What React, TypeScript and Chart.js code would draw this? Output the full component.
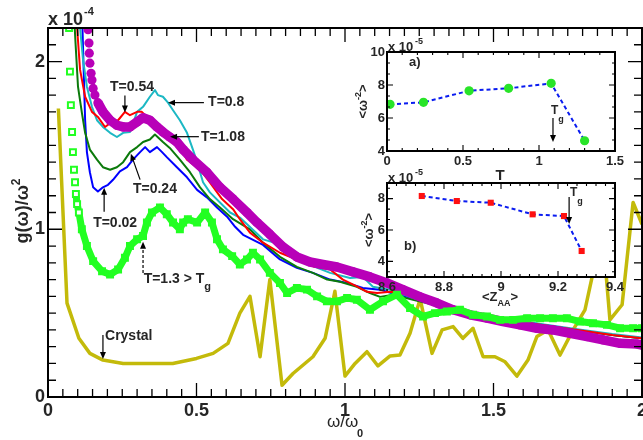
import { useEffect, useRef } from 'react';
import { Chart, registerables } from 'chart.js';

Chart.register(...registerables);

const FONT = '"Liberation Sans", Arial, Helvetica, sans-serif';
const TXT = '#262626';

// ---------- main panel: g(w)/w^2 in units of 1e-4 versus w/w0 ----------
const crystalW = [0.035, 0.064, 0.104, 0.141, 0.185, 0.253, 0.42, 0.50, 0.556, 0.606, 0.646, 0.68, 0.714, 0.747, 0.788, 0.825, 0.892, 0.933, 0.966, 1.0, 1.034, 1.074, 1.111, 1.152, 1.185, 1.219, 1.253, 1.293, 1.327, 1.364, 1.397, 1.431, 1.465, 1.505, 1.539, 1.579, 1.616, 1.646, 1.684, 1.724, 1.768, 1.808, 1.835, 1.865, 1.892, 1.933, 1.97, 2.0];
const crystalG = [1.72, 0.56, 0.35, 0.26, 0.22, 0.20, 0.20, 0.23, 0.26, 0.32, 0.50, 0.60, 0.24, 0.70, 0.07, 0.14, 0.24, 0.35, 0.63, 0.125, 0.20, 0.27, 0.185, 0.245, 0.25, 0.38, 0.585, 0.26, 0.40, 0.42, 0.35, 0.41, 0.24, 0.24, 0.21, 0.125, 0.22, 0.36, 0.40, 0.25, 0.40, 0.52, 0.74, 1.03, 0.46, 0.55, 1.16, 1.03];

const t130W = [0.071, 0.074, 0.077, 0.081, 0.084, 0.0875, 0.091, 0.094, 0.098, 0.104, 0.114, 0.131, 0.152, 0.182, 0.209, 0.236, 0.259, 0.276, 0.30, 0.32, 0.333, 0.35, 0.377, 0.40, 0.421, 0.444, 0.455, 0.471, 0.502, 0.529, 0.552, 0.569, 0.589, 0.62, 0.646, 0.67, 0.69, 0.714, 0.747, 0.781, 0.805, 0.838, 0.872, 0.906, 0.939, 0.973, 1.007, 1.04, 1.084, 1.128, 1.175, 1.219, 1.263, 1.303, 1.343, 1.387, 1.431, 1.478, 1.522, 1.566, 1.613, 1.657, 1.70, 1.747, 1.791, 1.835, 1.882, 1.926, 1.97, 2.0];
const t130G = [2.20, 1.94, 1.74, 1.58, 1.46, 1.355, 1.28, 1.21, 1.15, 1.10, 1.00, 0.90, 0.81, 0.75, 0.73, 0.76, 0.83, 0.90, 0.94, 0.96, 1.04, 1.10, 1.13, 1.09, 1.04, 1.00, 1.04, 1.06, 1.04, 1.10, 1.04, 0.94, 0.88, 0.84, 0.79, 0.82, 0.86, 0.82, 0.74, 0.68, 0.62, 0.65, 0.64, 0.60, 0.57, 0.57, 0.59, 0.58, 0.52, 0.57, 0.61, 0.53, 0.48, 0.50, 0.51, 0.52, 0.49, 0.48, 0.46, 0.46, 0.47, 0.47, 0.47, 0.47, 0.45, 0.44, 0.43, 0.41, 0.41, 0.41];

const t108W = [0.135, 0.138, 0.139, 0.141, 0.145, 0.148, 0.152, 0.158, 0.168, 0.185, 0.209, 0.232, 0.253, 0.276, 0.30, 0.32, 0.343, 0.367, 0.387, 0.41, 0.434, 0.455, 0.488, 0.535, 0.579, 0.623, 0.67, 0.704, 0.747, 0.791, 0.838, 0.882, 0.926, 0.973, 1.027, 1.084, 1.141, 1.195, 1.253, 1.31, 1.364, 1.421, 1.478, 1.532, 1.589, 1.646, 1.70, 1.758, 1.815, 1.869, 1.926, 1.983, 2.0];
const t108G = [2.19, 2.11, 2.05, 1.99, 1.93, 1.89, 1.84, 1.80, 1.755, 1.70, 1.65, 1.62, 1.61, 1.61, 1.64, 1.665, 1.65, 1.61, 1.58, 1.55, 1.52, 1.475, 1.415, 1.34, 1.25, 1.18, 1.10, 1.04, 0.97, 0.895, 0.835, 0.805, 0.79, 0.775, 0.746, 0.716, 0.68, 0.64, 0.597, 0.56, 0.52, 0.49, 0.47, 0.45, 0.43, 0.41, 0.40, 0.38, 0.36, 0.34, 0.32, 0.316, 0.31];

const t054W = [0.088, 0.098, 0.108, 0.125, 0.148, 0.168, 0.192, 0.215, 0.236, 0.259, 0.276, 0.30, 0.316, 0.333, 0.354, 0.377, 0.40, 0.42, 0.444, 0.468, 0.512, 0.545, 0.586, 0.623, 0.646, 0.68, 0.724, 0.781, 0.838, 0.892, 0.95, 0.993, 1.04, 1.074, 1.108, 1.152, 1.185, 1.25, 1.3, 1.35, 1.4, 1.5, 1.6, 1.7, 1.8, 1.9, 2.0];
const t054G = [2.35, 2.2, 1.95, 1.79, 1.70, 1.67, 1.61, 1.64, 1.65, 1.70, 1.68, 1.70, 1.70, 1.67, 1.64, 1.59, 1.56, 1.53, 1.49, 1.415, 1.355, 1.28, 1.18, 1.12, 1.06, 0.98, 0.92, 0.86, 0.82, 0.78, 0.76, 0.70, 0.66, 0.627, 0.62, 0.627, 0.62, 0.59, 0.56, 0.535, 0.51, 0.475, 0.445, 0.42, 0.395, 0.37, 0.35];

const t080W = [0.098, 0.108, 0.118, 0.131, 0.148, 0.165, 0.185, 0.209, 0.232, 0.253, 0.276, 0.30, 0.32, 0.343, 0.36, 0.37, 0.387, 0.404, 0.421, 0.444, 0.468, 0.488, 0.502, 0.522, 0.545, 0.579, 0.613, 0.646, 0.724, 0.781, 0.838, 0.892, 0.95, 1.017, 1.06, 1.094, 1.152, 1.219, 1.3, 1.4, 1.5, 1.6, 1.7, 1.8, 1.9, 2.0];
const t080G = [2.45, 2.2, 2.01, 1.85, 1.73, 1.65, 1.61, 1.575, 1.55, 1.575, 1.58, 1.70, 1.73, 1.79, 1.83, 1.80, 1.79, 1.755, 1.71, 1.65, 1.575, 1.475, 1.40, 1.28, 1.22, 1.16, 1.10, 1.07, 0.94, 0.91, 0.835, 0.78, 0.74, 0.71, 0.716, 0.657, 0.64, 0.597, 0.565, 0.515, 0.48, 0.45, 0.425, 0.40, 0.375, 0.355];

const t024W = [0.084, 0.093, 0.101, 0.114, 0.125, 0.141, 0.165, 0.185, 0.209, 0.232, 0.253, 0.276, 0.30, 0.32, 0.343, 0.36, 0.387, 0.41, 0.444, 0.478, 0.512, 0.545, 0.579, 0.623, 0.68, 0.724, 0.781, 0.838, 0.892, 0.94, 0.983, 1.04, 1.084, 1.118, 1.162, 1.25, 1.3, 1.4, 1.5, 1.6, 1.7, 1.8, 1.9, 2.0];
const t024G = [2.4, 2.1, 1.85, 1.695, 1.575, 1.475, 1.415, 1.37, 1.355, 1.37, 1.40, 1.46, 1.49, 1.52, 1.535, 1.565, 1.52, 1.485, 1.415, 1.34, 1.25, 1.18, 1.13, 1.06, 1.00, 0.92, 0.836, 0.776, 0.74, 0.70, 0.687, 0.657, 0.62, 0.597, 0.61, 0.57, 0.55, 0.51, 0.475, 0.445, 0.42, 0.395, 0.37, 0.35];

const t002W = [0.112, 0.125, 0.131, 0.141, 0.152, 0.168, 0.185, 0.202, 0.219, 0.242, 0.266, 0.286, 0.31, 0.327, 0.343, 0.367, 0.384, 0.40, 0.434, 0.468, 0.502, 0.535, 0.569, 0.603, 0.63, 0.657, 0.724, 0.781, 0.838, 0.892, 0.95, 1.007, 1.06, 1.118, 1.175, 1.229, 1.276, 1.35, 1.4, 1.5, 1.6, 1.7, 1.8, 1.9, 2.0];
const t002G = [2.45, 1.65, 1.46, 1.34, 1.25, 1.225, 1.25, 1.265, 1.295, 1.345, 1.37, 1.415, 1.46, 1.49, 1.46, 1.49, 1.46, 1.43, 1.37, 1.31, 1.235, 1.19, 1.13, 1.075, 1.015, 0.967, 0.907, 0.82, 0.77, 0.74, 0.70, 0.68, 0.65, 0.64, 0.61, 0.59, 0.58, 0.545, 0.515, 0.48, 0.45, 0.42, 0.395, 0.37, 0.35];

const mainTicksX = [0, 0.5, 1, 1.5, 2];
const mainTicksY = [0, 1, 2];

// ---------- inset a: <w^-2> (1e-5) versus T ----------
const insetATemps = [0.02, 0.24, 0.54, 0.8, 1.08, 1.3];
const insetAValues = [6.83, 6.95, 7.65, 7.8, 8.1, 4.62];
const insetATicksX = [0, 0.5, 1, 1.5];
const insetATicksY = [4, 6, 8, 10];

// ---------- inset b: <w^-2> (1e-5) versus <Z_AA> ----------
const insetBZ = [8.722, 8.845, 8.964, 9.111, 9.221, 9.283];
const insetBValues = [8.17, 7.85, 7.74, 7.0, 6.89, 4.66];
const insetBTicksX = [8.6, 8.8, 9, 9.2, 9.4];
const insetBTicksY = [4, 6, 8];

const pts = (xs: number[], ys: number[]) => xs.map((x, i) => ({ x, y: ys[i] }));

type Part = { t: string; s: number; dy?: number; w?: string };
function rich(ctx: CanvasRenderingContext2D, parts: Part[], x: number, y: number, align: 'left' | 'center' = 'left', rot = 0) {
  ctx.save();
  ctx.translate(x, y);
  if (rot) ctx.rotate(rot);
  ctx.textAlign = 'left';
  const widths = parts.map((p) => {
    ctx.font = `${p.w ?? 'bold'} ${p.s}px ${FONT}`;
    return ctx.measureText(p.t).width;
  });
  const total = widths.reduce((a, b) => a + b, 0);
  let cx = align === 'center' ? -total / 2 : 0;
  parts.forEach((p, i) => {
    ctx.font = `${p.w ?? 'bold'} ${p.s}px ${FONT}`;
    ctx.fillText(p.t, cx, p.dy ?? 0);
    cx += widths[i];
  });
  ctx.restore();
}

function arrow(ctx: CanvasRenderingContext2D, x1: number, y1: number, x2: number, y2: number, dash?: number[]) {
  const ang = Math.atan2(y2 - y1, x2 - x1);
  const c = Math.cos(ang), s = Math.sin(ang);
  const L = 7, W = 3;
  ctx.save();
  ctx.lineWidth = 1.2;
  ctx.strokeStyle = '#000';
  ctx.fillStyle = '#000';
  if (dash) ctx.setLineDash(dash);
  ctx.beginPath();
  ctx.moveTo(x1, y1);
  ctx.lineTo(x2 - c * L * 0.8, y2 - s * L * 0.8);
  ctx.stroke();
  ctx.setLineDash([]);
  ctx.beginPath();
  ctx.moveTo(x2, y2);
  ctx.lineTo(x2 - L * c - W * s, y2 - L * s + W * c);
  ctx.lineTo(x2 - L * c + W * s, y2 - L * s - W * c);
  ctx.closePath();
  ctx.fill();
  ctx.restore();
}

function ticksFor(min: number, max: number, step: number, anchor: number) {
  const out: number[] = [];
  const k0 = Math.ceil((min - anchor) / step - 1e-6);
  for (let k = k0; ; k++) {
    const v = anchor + k * step;
    if (v > max + 1e-6) break;
    out.push(v);
  }
  return out;
}

type FrameCfg = { xs: number[]; xMaj: number[]; ys: number[]; yMaj: number[]; maj: number; min: number; lw: number; tlw: number };
function drawFrame(chart: any, f: FrameCfg) {
  const { ctx, chartArea: a } = chart;
  const x = chart.scales.x, y = chart.scales.y;
  const isMaj = (v: number, arr: number[]) => arr.some((m) => Math.abs(m - v) < 1e-6);
  ctx.save();
  ctx.strokeStyle = '#000';
  ctx.lineWidth = f.tlw;
  ctx.beginPath();
  for (const v of f.xs) {
    const p = x.getPixelForValue(v);
    const L = isMaj(v, f.xMaj) ? f.maj : f.min;
    ctx.moveTo(p, a.bottom); ctx.lineTo(p, a.bottom - L);
    ctx.moveTo(p, a.top); ctx.lineTo(p, a.top + L);
  }
  for (const v of f.ys) {
    const p = y.getPixelForValue(v);
    const L = isMaj(v, f.yMaj) ? f.maj : f.min;
    ctx.moveTo(a.left, p); ctx.lineTo(a.left + L, p);
    ctx.moveTo(a.right, p); ctx.lineTo(a.right - L, p);
  }
  ctx.stroke();
  ctx.lineWidth = f.lw;
  ctx.strokeRect(a.left, a.top, a.right - a.left, a.bottom - a.top);
  ctx.restore();
}

const tickFont = (size: number) => ({ family: FONT, size, weight: 'bold' as const });
const clear = 'rgba(0,0,0,0)';
const noPad = (s: any) => { s.paddingLeft = 0; s.paddingRight = 0; s.paddingTop = 0; s.paddingBottom = 0; };

function mainConfig(): any {
  const frame: FrameCfg = {
    xs: ticksFor(0, 2, 0.05, 0), xMaj: mainTicksX,
    ys: ticksFor(0, 2.2, 0.1, 0), yMaj: mainTicksY,
    maj: 14, min: 8, lw: 2, tlw: 1.3,
  };
  const line = (data: any, color: string, width: number, order: number) => ({
    data, borderColor: color, borderWidth: width, pointRadius: 0, tension: 0, clip: 0, order,
    borderJoinStyle: 'round', fill: false,
  });
  return {
    type: 'line',
    data: {
      datasets: [
        {
          ...line(pts(t130W, t130G), '#22ff22', 7, 0),
          pointStyle: 'rect', pointRadius: 4.2, pointBorderWidth: 2, pointBorderColor: '#22ff22',
          pointBackgroundColor: (c: any) => (c.dataIndex < 10 ? '#ffffff' : '#22ff22'),
          segment: { borderColor: (c: any) => (c.p0DataIndex < 7 ? clear : undefined) },
        },
        {
          ...line(pts(t108W, t108G), '#b800b8', 9.5, 1),
          pointStyle: 'circle', pointRadius: 4.6, pointBorderWidth: 0, pointBackgroundColor: '#b800b8',
          segment: { borderColor: (c: any) => (c.p0DataIndex < 8 ? clear : undefined) },
        },
        line(pts(t054W, t054G), '#ff0000', 2, 2),
        line(pts(t080W, t080G), '#1cb8c4', 2, 3),
        line(pts(t024W, t024G), '#0b7a0b', 2, 4),
        line(pts(t002W, t002G), '#0000ff', 2, 5),
        line(pts(crystalW, crystalG), '#c3ba0a', 3.5, 6),
      ],
    },
    options: {
      responsive: false, animation: false, events: [],
      layout: { autoPadding: false, padding: { left: 0, right: 1, top: 28, bottom: 0 } },
      plugins: { legend: { display: false }, tooltip: { enabled: false } },
      scales: {
        x: {
          type: 'linear', min: 0, max: 2,
          afterBuildTicks: (s: any) => { s.ticks = mainTicksX.map((v) => ({ value: v })); },
          ticks: { callback: (v: any) => String(v), font: tickFont(18), color: TXT, padding: 3, maxRotation: 0, autoSkip: false },
          grid: { display: false, drawTicks: false }, border: { display: false },
          afterFit: (s: any) => { s.height = 43; noPad(s); },
        },
        y: {
          type: 'linear', min: 0, max: 2.2,
          afterBuildTicks: (s: any) => { s.ticks = mainTicksY.map((v) => ({ value: v })); },
          ticks: { callback: (v: any) => String(v), font: tickFont(18), color: TXT, padding: 3, autoSkip: false },
          grid: { display: false, drawTicks: false }, border: { display: false },
          afterFit: (s: any) => { s.width = 48; noPad(s); },
        },
      },
    },
    plugins: [{
      id: 'mainDecor',
      afterDraw(chart: any) {
        drawFrame(chart, frame);
        const { ctx } = chart;
        const X = (v: number) => chart.scales.x.getPixelForValue(v);
        const Y = (v: number) => chart.scales.y.getPixelForValue(v);
        ctx.save();
        ctx.fillStyle = TXT;
        ctx.textBaseline = 'alphabetic';
        rich(ctx, [{ t: 'x 10', s: 18 }], 48, 25);
        rich(ctx, [{ t: '-4', s: 11 }], 84, 15);
        rich(ctx, [{ t: 'g(ω)/ω', s: 18 }, { t: '2', s: 12, dy: -8 }], 28, 211, 'center', -Math.PI / 2);
        rich(ctx, [{ t: 'ω/ω', s: 17, w: 'normal' }], 327, 427);
        rich(ctx, [{ t: '0', s: 11 }], 357, 437);

        ctx.textBaseline = 'middle';
        const lbl = (t: string, wx: number, wy: number, sub?: string) =>
          rich(ctx, [{ t, s: 14 }, ...(sub ? [{ t: sub, s: 11, dy: 7 }] : [])], X(wx), Y(wy));
        lbl('T=0.54', 0.209, 1.845);
        arrow(ctx, X(0.259), Y(1.797), X(0.259), Y(1.696));
        lbl('T=0.8', 0.539, 1.755);
        arrow(ctx, X(0.525), Y(1.755), X(0.404), Y(1.755));
        lbl('T=1.08', 0.515, 1.55);
        arrow(ctx, X(0.508), Y(1.552), X(0.411), Y(1.552));
        lbl('T=0.24', 0.286, 1.242);
        arrow(ctx, X(0.31), Y(1.296), X(0.279), Y(1.451));
        lbl('T=0.02', 0.152, 1.039);
        arrow(ctx, X(0.189), Y(1.104), X(0.189), Y(1.248));
        lbl('T=1.3 > T', 0.322, 0.70, 'g');
        arrow(ctx, X(0.32), Y(0.74), X(0.32), Y(0.925), [3, 2]);
        lbl('Crystal', 0.192, 0.364);
        arrow(ctx, X(0.185), Y(0.37), X(0.185), Y(0.227));
        ctx.restore();
      },
    }],
  };
}

function insetConfig(kind: 'a' | 'b'): any {
  const isA = kind === 'a';
  const xs = isA ? insetATemps : insetBZ;
  const ys = isA ? insetAValues : insetBValues;
  const tx = isA ? insetATicksX : insetBTicksX;
  const ty = isA ? insetATicksY : insetBTicksY;
  const xmin = isA ? 0 : 8.6, xmax = isA ? 1.5 : 9.4;
  const ymin = isA ? 4 : 3, ymax = isA ? 10 : 9;
  const frame: FrameCfg = {
    xs: ticksFor(xmin, xmax, isA ? 0.1 : 0.2 / 6, xmin), xMaj: tx,
    ys: ticksFor(ymin, ymax, 2 / 3, 4), yMaj: ty,
    maj: 6, min: 3, lw: 2, tlw: 1.1,
  };
  return {
    type: 'line',
    data: {
      datasets: [{
        data: pts(xs, ys), borderColor: '#0a1cf0', borderWidth: 2, borderDash: [4, 3], tension: 0, clip: 0,
        pointStyle: isA ? 'circle' : 'rect', pointRadius: isA ? 4.6 : 4.3, pointBorderWidth: 0,
        pointBackgroundColor: isA ? '#28e428' : '#ff1010', fill: false,
      }],
    },
    options: {
      responsive: false, animation: false, events: [],
      layout: { autoPadding: false, padding: { left: 357, right: 28, top: isA ? 52 : 183, bottom: isA ? 269 : 143 } },
      plugins: { legend: { display: false }, tooltip: { enabled: false } },
      scales: {
        x: {
          type: 'linear', min: xmin, max: xmax,
          afterBuildTicks: (s: any) => { s.ticks = tx.map((v) => ({ value: v })); },
          ticks: { callback: (v: any) => String(+Number(v).toFixed(2)), font: tickFont(13), color: TXT, padding: 3, maxRotation: 0, autoSkip: false },
          grid: { display: false, drawTicks: false }, border: { display: false },
          afterFit: (s: any) => { s.height = 20; noPad(s); },
        },
        y: {
          type: 'linear', min: ymin, max: ymax,
          afterBuildTicks: (s: any) => { s.ticks = ty.map((v) => ({ value: v })); },
          ticks: { callback: (v: any) => String(v), font: tickFont(13), color: TXT, padding: 2, autoSkip: false },
          grid: { display: false, drawTicks: false }, border: { display: false },
          afterFit: (s: any) => { s.width = 30; noPad(s); },
        },
      },
    },
    plugins: [{
      id: 'insetDecor' + kind,
      beforeDraw(chart: any) {
        const { ctx, chartArea: a } = chart;
        ctx.save();
        ctx.fillStyle = '#ffffff';
        ctx.fillRect(a.left, a.top, a.right - a.left, a.bottom - a.top);
        ctx.restore();
      },
      afterDraw(chart: any) {
        drawFrame(chart, frame);
        const { ctx, chartArea: a } = chart;
        const X = (v: number) => chart.scales.x.getPixelForValue(v);
        const Y = (v: number) => chart.scales.y.getPixelForValue(v);
        ctx.save();
        ctx.fillStyle = TXT;
        ctx.textBaseline = 'alphabetic';
        rich(ctx, [{ t: 'x 10', s: 13 }], a.left + 1, a.top - 1);
        rich(ctx, [{ t: '-5', s: 9 }], a.left + 28, a.top - 8);
        const cy = (a.top + a.bottom) / 2;
        rich(ctx, [{ t: '<ω', s: 13 }, { t: '-2', s: 9, dy: -6 }, { t: '>', s: 13 }], isA ? 367 : 373, cy, 'center', -Math.PI / 2);
        if (isA) {
          rich(ctx, [{ t: 'T', s: 15 }], 500, 180, 'center');
        } else {
          rich(ctx, [{ t: '<Z', s: 13 }, { t: 'AA', s: 9, dy: 5 }, { t: '>', s: 13 }], 500, 301, 'center');
        }
        ctx.textBaseline = 'middle';
        if (isA) {
          rich(ctx, [{ t: 'a)', s: 13 }], X(0.145), Y(9.39));
          rich(ctx, [{ t: 'T', s: 12 }, { t: 'g', s: 9, dy: 8 }], X(1.079), Y(6.42));
          arrow(ctx, X(1.092), Y(6.0), X(1.092), Y(4.55));
        } else {
          rich(ctx, [{ t: 'b)', s: 13 }], X(8.66), Y(4.92));
          rich(ctx, [{ t: 'T', s: 12 }, { t: 'g', s: 9, dy: 8 }], X(9.242), Y(8.36));
          arrow(ctx, X(9.239), Y(8.1), X(9.239), Y(6.38));
        }
        ctx.restore();
      },
    }],
  };
}

export default function App() {
  const mainRef = useRef<HTMLCanvasElement>(null);
  const aRef = useRef<HTMLCanvasElement>(null);
  const bRef = useRef<HTMLCanvasElement>(null);
  useEffect(() => {
    const charts = [
      new Chart(mainRef.current as HTMLCanvasElement, mainConfig()),
      new Chart(aRef.current as HTMLCanvasElement, insetConfig('a')),
      new Chart(bRef.current as HTMLCanvasElement, insetConfig('b')),
    ];
    return () => charts.forEach((c) => c.destroy());
  }, []);
  const cs: any = { position: 'absolute', left: 0, top: 0, width: 643, height: 440 };
  return (
    <div style={{ position: 'fixed', left: 0, top: 0, width: 643, height: 440, background: '#fff', overflow: 'hidden' }}>
      <canvas ref={mainRef} width={643} height={440} style={cs} />
      <canvas ref={aRef} width={643} height={440} style={cs} />
      <canvas ref={bRef} width={643} height={440} style={cs} />
    </div>
  );
}
